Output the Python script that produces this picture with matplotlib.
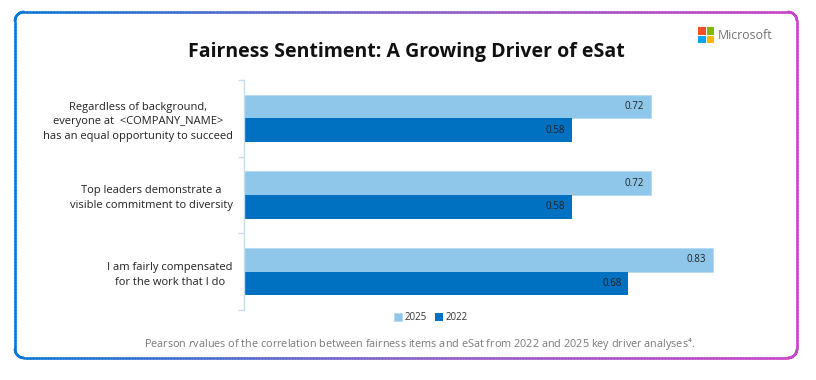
import matplotlib.pyplot as plt
import numpy as np
from matplotlib.collections import LineCollection
from matplotlib.colors import LinearSegmentedColormap
from matplotlib.patches import Rectangle

plt.rcParams['font.family'] = ['Open Sans', 'DejaVu Sans']

# data
categories = ['Regardless of background,\neveryone at  <COMPANY_NAME>\nhas an equal opportunity to succeed',
              'Top leaders demonstrate a\nvisible commitment to diversity',
              'I am fairly compensated\nfor the work that I do']
years = ['2025', '2022']
vals_2025 = [0.72, 0.72, 0.83]
vals_2022 = [0.58, 0.58, 0.68]

c_light = '#8fc7ea'
c_dark = '#0070c0'
W, H = 816, 380

fig = plt.figure(figsize=(W / 100, H / 100), dpi=100)

# background layer in pixel coords for frame / logo
bg = fig.add_axes([0, 0, 1, 1])
bg.set_xlim(0, W)
bg.set_ylim(H, 0)
bg.axis('off')

# rounded border with blue -> magenta gradient
x0, y0, x1, y1, r = 15, 12, 797, 358, 9
pts = []
def arc(cx, cy, a0, a1):
    t = np.linspace(np.radians(a0), np.radians(a1), 20)
    return list(zip(cx + r * np.cos(t), cy + r * np.sin(t)))
pts += [(x0 + r, y0), (x1 - r, y0)]
pts += arc(x1 - r, y0 + r, -90, 0)
pts += [(x1, y1 - r)]
pts += arc(x1 - r, y1 - r, 0, 90)
pts += [(x0 + r, y1)]
pts += arc(x0 + r, y1 - r, 90, 180)
pts += [(x0, y0 + r)]
pts += arc(x0 + r, y0 + r, 180, 270)
# densify
dense = []
for a, b in zip(pts[:-1], pts[1:]):
    n = max(2, int(np.hypot(b[0] - a[0], b[1] - a[1]) / 3))
    for s in np.linspace(0, 1, n, endpoint=False):
        dense.append((a[0] + (b[0] - a[0]) * s, a[1] + (b[1] - a[1]) * s))
dense.append(pts[-1])
dense.append(pts[0])
dense = np.array(dense)
segs = np.stack([dense[:-1], dense[1:]], axis=1)
cmap = LinearSegmentedColormap.from_list('edge', ['#0a78d4', '#8a62c8', '#c844c8'])
lc = LineCollection(segs, cmap=cmap, linewidths=1.8, capstyle='round')
lc.set_array((segs[:, 0, 0] + segs[:, 1, 0]) / 2)
lc.set_clim(x0, x1)
bg.add_collection(lc)

# Microsoft logo
for (dx, dy), col in zip([(0, 0), (8.5, 0), (0, 8.5), (8.5, 8.5)],
                         ['#f25022', '#7fba00', '#00a4ef', '#ffb900']):
    bg.add_patch(Rectangle((698 + dx, 27 + dy), 7.5, 7.5, color=col, lw=0))
bg.text(718, 35.5, 'Microsoft', fontsize=8.8, color='#737373', va='center', ha='left')

# title
fig.text(406 / W, 1 - 52 / H, 'Fairness Sentiment: A Growing Driver of eSat',
         fontsize=14, fontweight='bold', ha='center', va='center', color='#111111')

# chart
ax = fig.add_axes([244 / W, 1 - 310 / H, (770 - 244) / W, 230 / H])
y = np.arange(len(categories))[::-1]
h = 0.31
b1 = ax.barh(y + h / 2, vals_2025, height=h, color=c_light, edgecolor='#b5dbf2', lw=0.6, label=years[0])
b2 = ax.barh(y - h / 2, vals_2022, height=h, color=c_dark, lw=0, label=years[1])
for bars, vals in ((b1, vals_2025), (b2, vals_2022)):
    for bar, v in zip(bars, vals):
        ax.text(v - 0.012, bar.get_y() + bar.get_height() / 2, f'{v:.2f}',
                ha='right', va='center', fontsize=7, color='#222222')

ax.set_xlim(0, (770 - 244) / 565)
ax.set_ylim(-0.5, 2.5)
ax.set_yticks([-0.5, 0.5, 1.5, 2.5])
ax.set_yticklabels([])
ax.set_yticks(y, minor=True)
ax.set_yticklabels(categories, minor=True, fontsize=8, multialignment='center',
                   color='#222222', linespacing=1.45)
ax.tick_params(axis='y', which='major', length=4, color='#c5dcee', width=1)
ax.tick_params(axis='y', which='minor', length=0, pad=8)
ax.set_xticks([])
for s in ('top', 'right', 'bottom'):
    ax.spines[s].set_visible(False)
ax.spines['left'].set_color('#c5dcee')
ax.spines['left'].set_linewidth(1)

fig.legend(handles=[b1, b2], labels=years, loc='center', bbox_to_anchor=(431 / W, 1 - 318 / H),
           ncol=2, frameon=False, fontsize=7, handlelength=0.8, handleheight=0.8,
           handletextpad=0.3, columnspacing=0.8, labelcolor='#333333')

fig.text(420 / W, 1 - 344 / H,
         'Pearson $\\it{r}$values of the correlation between fairness items and eSat from 2022 and 2025 key driver analyses\u2074.',
         fontsize=7.8, ha='center', va='center', color='#7a7a7a')

fig.savefig('out.png', dpi=100)
